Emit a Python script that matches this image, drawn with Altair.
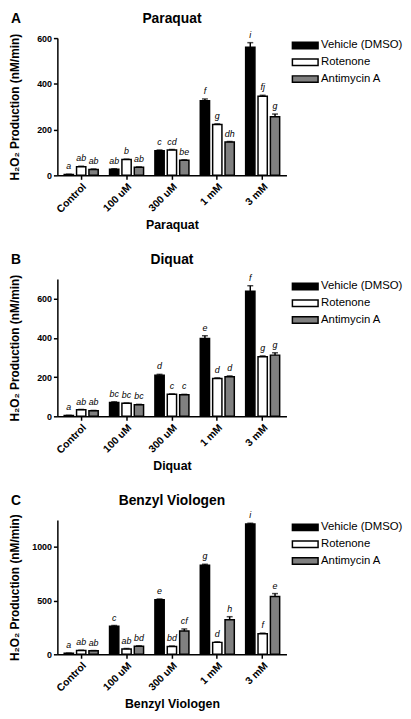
import altair as alt
import pandas as pd

doses = ["Control", "100 uM", "300 uM", "1 mM", "3 mM"]
treatments = ["Vehicle (DMSO)", "Rotenone", "Antimycin A"]
colors = ["#000000", "#ffffff", "#808080"]

# Paraquat
pq_vehicle = [4, 27, 108, 326, 560]
pq_rotenone = [38, 69, 111, 222, 346]
pq_antimycin = [26, 35, 66, 146, 256]
pq_err_vehicle = [1, 2, 3, 8, 20]
pq_err_rotenone = [2, 2, 2, 3, 4]
pq_err_antimycin = [2, 2, 2, 2, 12]
pq_let_vehicle = ["a", "ab", "c", "f", "i"]
pq_let_rotenone = ["ab", "b", "cd", "g", "fj"]
pq_let_antimycin = ["ab", "ab", "be", "dh", "g"]

# Diquat
dq_vehicle = [4, 71, 210, 397, 638]
dq_rotenone = [33, 66, 112, 193, 304]
dq_antimycin = [28, 59, 110, 202, 312]
dq_err_vehicle = [1, 3, 4, 14, 28]
dq_err_rotenone = [2, 2, 2, 3, 4]
dq_err_antimycin = [2, 2, 2, 4, 12]
dq_let_vehicle = ["a", "bc", "d", "e", "f"]
dq_let_rotenone = ["ab", "bc", "c", "d", "g"]
dq_let_antimycin = ["ab", "bc", "c", "d", "g"]

# Benzyl Viologen
bv_vehicle = [9, 262, 507, 830, 1212]
bv_rotenone = [36, 50, 72, 111, 192]
bv_antimycin = [33, 75, 216, 322, 537]
bv_err_vehicle = [2, 6, 8, 8, 8]
bv_err_rotenone = [2, 4, 5, 5, 5]
bv_err_antimycin = [2, 4, 20, 28, 28]
bv_let_vehicle = ["a", "c", "e", "g", "i"]
bv_let_rotenone = ["ab", "ab", "bd", "d", "f"]
bv_let_antimycin = ["ab", "bd", "cf", "h", "e"]

FONT = "Liberation Sans"


def make_df(vals, errs, lets):
    rows = []
    for t, v, e, l in zip(treatments, vals, errs, lets):
        for d, vv, ee, ll in zip(doses, v, e, l):
            rows.append({"dose": d, "treatment": t, "value": vv, "top": vv + ee, "letter": ll})
    return pd.DataFrame(rows)


def panel(df, name, letter, ymax, ystep, width, height):
    base = alt.Chart(df)
    x = alt.X(
        "dose:N", sort=doses,
        scale=alt.Scale(paddingInner=0.25, paddingOuter=0.15),
        axis=alt.Axis(title=name, labelAngle=-45, labelFontSize=10.5, labelFontWeight="bold",
                      titleFontSize=12.5, titleFontWeight="bold", labelPadding=2, titlePadding=4),
    )
    xo = alt.XOffset("treatment:N", sort=treatments,
                     scale=alt.Scale(domain=treatments, paddingInner=0.25, paddingOuter=0))
    y_axis = alt.Axis(
        values=list(range(0, ymax + 1, ystep)), format="d",
        title="H\u2082O\u2082 Production (nM/min)",
        labelFontSize=9, labelFontWeight="bold", titleFontSize=12, titleFontWeight="bold",
        titleX=-36, titleY=height / 2, labelPadding=2,
    )
    bars = base.mark_bar(stroke="black", strokeWidth=1.5).encode(
        x=x, xOffset=xo,
        y=alt.Y("value:Q", scale=alt.Scale(domain=[0, ymax], nice=False), axis=y_axis),
        color=alt.Color(
            "treatment:N", sort=treatments,
            scale=alt.Scale(domain=treatments, range=colors),
            legend=alt.Legend(
                title=None, orient="right", offset=5,
                symbolType="M-1,-0.5H3V0.5H-1Z", symbolSize=169,
                symbolStrokeColor="black", symbolStrokeWidth=1.5, symbolOpacity=1,
                labelFont=FONT, labelFontSize=11.5, labelOffset=15, rowPadding=3,
            ),
        ),
    )
    err = base.mark_rule(color="black", strokeWidth=1.5).encode(
        x=x, xOffset=xo, y="value:Q", y2="top:Q"
    )
    cap = base.mark_tick(color="black", thickness=1.5, size=6).encode(
        x=x, xOffset=xo, y="top:Q"
    )
    labels = base.mark_text(fontStyle="italic", fontSize=9, font=FONT, baseline="bottom", dy=-3).encode(
        x=x, xOffset=xo, y="top:Q", text="letter:N"
    )
    tag = alt.Chart(pd.DataFrame({"t": [letter]})).mark_text(
        font=FONT, fontSize=14, fontWeight="bold", align="left", baseline="alphabetic"
    ).encode(x=alt.value(-47), y=alt.value(-15), text="t:N")
    ttl = alt.Chart(pd.DataFrame({"t": [name]})).mark_text(
        font=FONT, fontSize=14, fontWeight="bold", align="center", baseline="alphabetic"
    ).encode(x=alt.value(width / 2), y=alt.value(-15), text="t:N")
    return alt.layer(bars, err, cap, labels, tag, ttl).properties(width=width, height=height)


pA = panel(make_df([pq_vehicle, pq_rotenone, pq_antimycin],
                   [pq_err_vehicle, pq_err_rotenone, pq_err_antimycin],
                   [pq_let_vehicle, pq_let_rotenone, pq_let_antimycin]),
           "Paraquat", "A", 600, 100, 232, 139)
pB = panel(make_df([dq_vehicle, dq_rotenone, dq_antimycin],
                   [dq_err_vehicle, dq_err_rotenone, dq_err_antimycin],
                   [dq_let_vehicle, dq_let_rotenone, dq_let_antimycin]),
           "Diquat", "B", 700, 100, 232, 139)
pC = panel(make_df([bv_vehicle, bv_rotenone, bv_antimycin],
                   [bv_err_vehicle, bv_err_rotenone, bv_err_antimycin],
                   [bv_let_vehicle, bv_let_rotenone, bv_let_antimycin]),
           "Benzyl Viologen", "C", 1250, 250, 232, 136)

chart = alt.vconcat(pA, pB, pC, spacing=22).resolve_scale(
    x="independent", y="independent", color="independent", xOffset="independent"
).properties(
    padding={"left": 0, "top": 0, "right": 0, "bottom": 0}
).configure(font=FONT).configure_view(stroke=None).configure_axis(
    labelFont=FONT, titleFont=FONT, labelColor="black", titleColor="black",
    domainColor="black", domainWidth=1.5, tickColor="black", tickWidth=1.5, tickSize=4,
    grid=False,
)

chart.save("out.html", embed_options={"renderer": "svg", "actions": False})
